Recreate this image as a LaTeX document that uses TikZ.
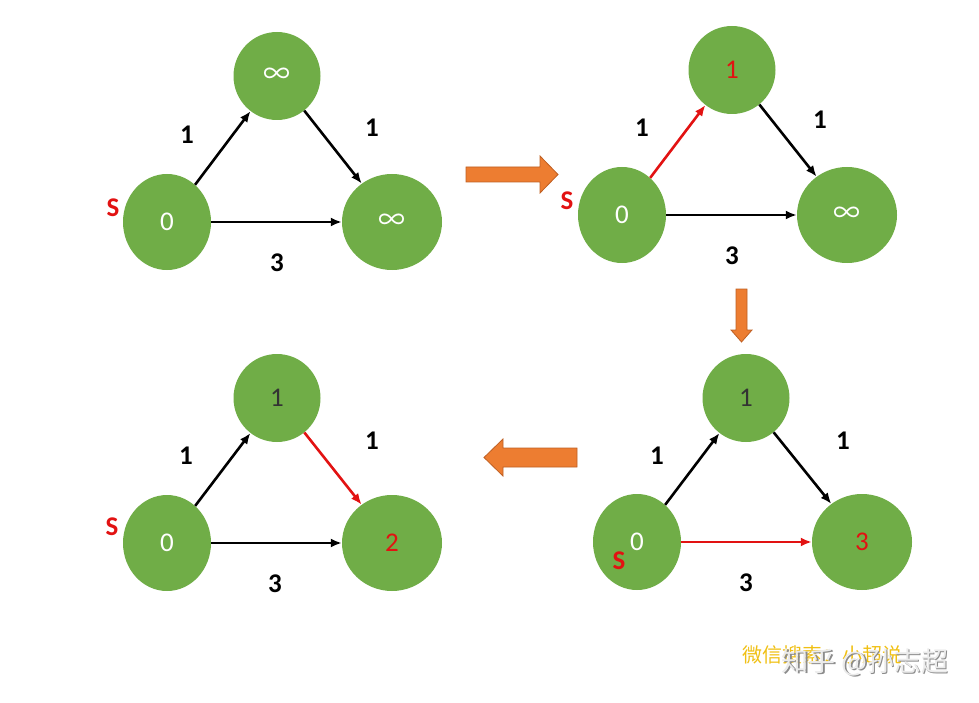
\documentclass[tikz,border=0pt]{standalone}
\usepackage{fontspec}
\setmainfont{Carlito}
\newfontfamily\cjkfont{Noto Sans CJK SC}
\usetikzlibrary{shapes.geometric,arrows.meta}

\definecolor{nodegreen}{RGB}{112,173,71}
\definecolor{arroworange}{RGB}{237,125,49}
\definecolor{arrowrim}{RGB}{190,95,35}
\definecolor{mark}{RGB}{226,18,18}
\definecolor{wmyellow}{RGB}{240,192,20}

\newcommand{\inftext}{{\cjkfont ∞}}

\begin{document}
\begin{tikzpicture}[x=1pt,y=-1pt,
					%>=stealth',
					main node/.style={ellipse,fill=nodegreen,inner sep=0pt,text=white,
						font=\fontsize{27}{27}\selectfont},
					top node/.style={main node,minimum width=87,minimum height=88},
					src node/.style={main node,minimum width=88,minimum height=96},
					end node/.style={main node,minimum width=100,minimum height=96},
					wlabel/.style={font=\bfseries\fontsize{27}{27}\selectfont},
					slabel/.style={text=mark,font=\bfseries\fontsize{27}{27}\selectfont},
					link/.style={line width=2.6pt,-{Latex[length=11pt,width=9pt]}},
					bigarrow/.style={fill=arroworange,draw=arrowrim,line width=0.8pt}]

  \useasboundingbox (0,0) rectangle (979,703);

  % step 1
  \node[src node] (S1) at (167,222) {0};
  \node[top node] (A1) at (277,76) {\inftext};
  \node[end node] (B1) at (392,222) {\inftext};
  \node[slabel] (s1) at (113,208) {S};
  \node[wlabel] (w1a) at (187,135) {1};
  \node[wlabel] (w1b) at (372,128) {1};
  \node[wlabel] (w1c) at (277,263) {3};

  \path[link]
    (S1) edge (A1)
         edge (B1)
    (A1) edge (B1);

  % step 2
  \node[src node] (S2) at (622,215) {0};
  \node[top node] (A2) at (732,70) {\textcolor{mark}{1}};
  \node[end node] (B2) at (847,215) {\inftext};
  \node[slabel] (s2) at (567,201) {S};
  \node[wlabel] (w2a) at (642,128) {1};
  \node[wlabel] (w2b) at (820,120) {1};
  \node[wlabel] (w2c) at (732,256) {3};

  \path[link]
    (S2) edge[draw=mark] (A2)
         edge (B2)
    (A2) edge (B2);

  % step 3
  \node[src node] (S3) at (637,542) {0};
  \node[top node] (A3) at (746,398) {\textcolor{black!80}{1}};
  \node[end node] (B3) at (862,542) {\textcolor{mark}{3}};
  \node[slabel] (s3) at (619,561) {S};
  \node[wlabel] (w3a) at (657,456) {1};
  \node[wlabel] (w3b) at (843,441) {1};
  \node[wlabel] (w3c) at (746,583) {3};

  \path[link]
    (S3) edge (A3)
         edge[draw=mark] (B3)
    (A3) edge (B3);

  % step 4
  \node[src node] (S4) at (167,543) {0};
  \node[top node] (A4) at (277,398) {\textcolor{black!80}{1}};
  \node[end node] (B4) at (392,543) {\textcolor{mark}{2}};
  \node[slabel] (s4) at (112,527) {S};
  \node[wlabel] (w4a) at (186,456) {1};
  \node[wlabel] (w4b) at (372,441) {1};
  \node[wlabel] (w4c) at (275,584) {3};

  \path[link]
    (S4) edge (A4)
         edge (B4)
    (A4) edge[draw=mark] (B4);

  % arrows between the steps
  \filldraw[bigarrow] (466,167) -- (540,167) -- (540,156) -- (558,174.5)
    -- (540,193) -- (540,182) -- (466,182) -- cycle;
  \filldraw[bigarrow] (736,289) -- (747,289) -- (747,330) -- (752,330)
    -- (741.5,342) -- (731,330) -- (736,330) -- cycle;
  \filldraw[bigarrow] (577,448) -- (503,448) -- (503,439) -- (484,457.5)
    -- (503,476) -- (503,467) -- (577,467) -- cycle;

  % watermark
  \node[text=wmyellow,font=\cjkfont\fontsize{20}{20}\selectfont] (wx) at (822,655) {微信搜索：小超说};
  \node[text=black!45,font=\cjkfont\fontsize{27}{27}\selectfont] (zhs) at (866.5,663.5) {知乎 @孙志超};
  \node[text=white!92!black,font=\cjkfont\fontsize{27}{27}\selectfont] (zh) at (865,662) {知乎 @孙志超};
\end{tikzpicture}
\end{document}
